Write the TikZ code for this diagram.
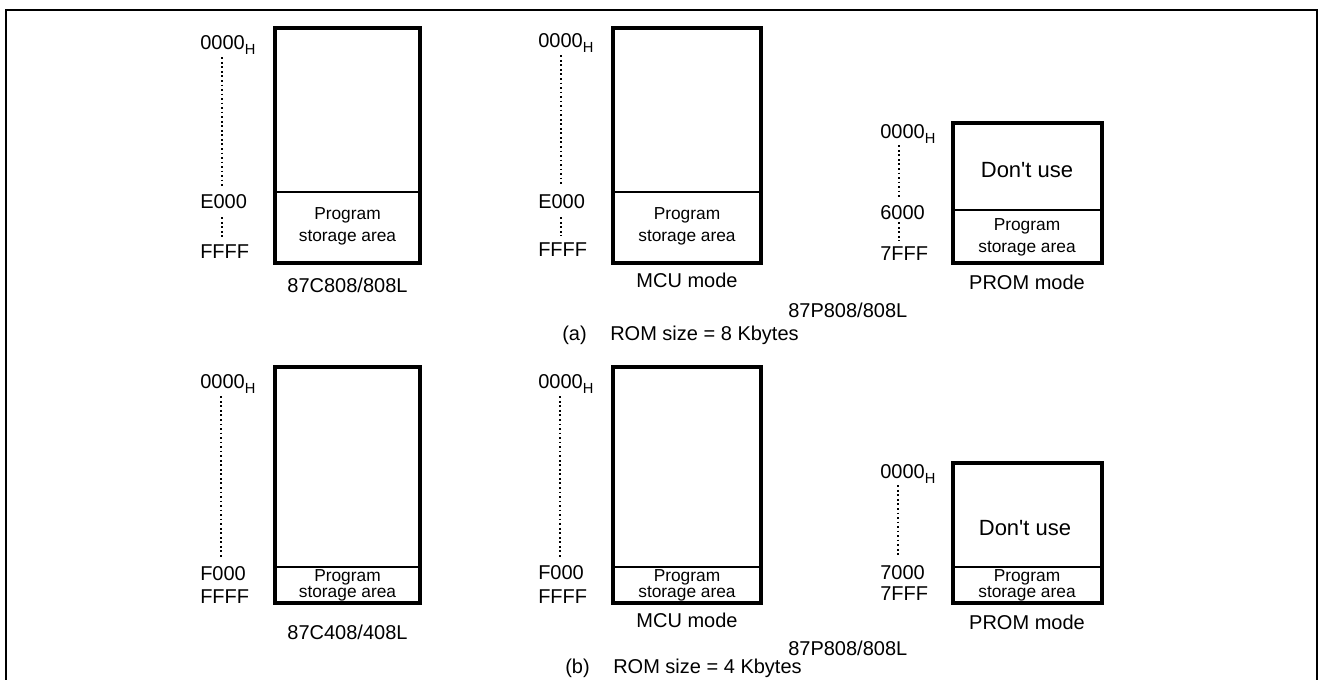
\documentclass[tikz,border=0pt]{standalone}
\usepackage{fontspec}
\setmainfont{Liberation Sans}
\usetikzlibrary{calc}
\newcommand\hsub{\smash{\raisebox{-0.4ex}{\fontsize{11}{11}\selectfont H}}}
\begin{document}
\begin{tikzpicture}[x=0.75pt,y=-0.75pt,
  membox/.style={line width=3pt},
  divline/.style={line width=0.9pt},
  dots/.style={line width=1.3pt, dash pattern=on 1.3pt off 2.1pt},
  frameline/.style={line width=2pt},
  addr/.style={anchor=west, inner sep=0pt, font=\fontsize{15}{18}\selectfont},
  lbl/.style={inner sep=0pt, font=\fontsize{15}{18}\selectfont},
  prog/.style={inner sep=0pt, align=center, font=\fontsize{13}{16.5}\selectfont},
  progt/.style={inner sep=0pt, align=center, font=\fontsize{13}{12}\selectfont},
  dont/.style={inner sep=0pt, font=\fontsize{16.5}{20}\selectfont},
]
\useasboundingbox (0,0) rectangle (1318,680);
\draw[frameline] (6,700) -- (6,10) -- (1317,10) -- (1317,700);

% ---------- (a) left: 87C808/808L ----------
\draw[membox] (275,28) rectangle (420,263);
\draw[divline] (275,192) -- (420,192);
\node[addr] (tla0) at (200,43) {0000\hsub};
\node[addr] (tla1) at (200,202) {E000};
\node[addr] (tla2) at (200,252) {FFFF};
\draw[dots] ($(222,0 |- tla0.south)+(0,7)$) -- ($(222,0 |- tla1.north)+(0,-9)$);
\draw[dots] ($(222,0 |- tla1.south)+(0,8)$) -- ($(222,0 |- tla2.north)+(0,-7)$);
\node[prog] (tlp) at (347.5,226) {Program\\storage area};
\node[lbl] (tlc) at (347.5,285) {87C808/808L};

% ---------- (a) middle: MCU mode ----------
\draw[membox] (613,28) rectangle (761,263);
\draw[divline] (613,192) -- (761,192);
\node[addr] (tma0) at (538,41) {0000\hsub};
\node[addr] (tma1) at (538,202) {E000};
\node[addr] (tma2) at (538,250) {FFFF};
\draw[dots] ($(561,0 |- tma0.south)+(0,7)$) -- ($(561,0 |- tma1.north)+(0,-9)$);
\draw[dots] ($(561,0 |- tma1.south)+(0,8)$) -- ($(561,0 |- tma2.north)+(0,-7)$);
\node[prog] (tmp) at (687,226) {Program\\storage area};
\node[lbl] (tmc) at (687,280) {MCU mode};

% ---------- (a) right: PROM mode ----------
\draw[membox] (953,123) rectangle (1102,263);
\draw[divline] (953,210) -- (1102,210);
\node[addr] (tra0) at (880,132) {0000\hsub};
\node[addr] (tra1) at (880,213) {6000};
\node[addr] (tra2) at (880,254) {7FFF};
\draw[dots] ($(899,0 |- tra0.south)+(0,6)$) -- ($(899,0 |- tra1.north)+(0,-9)$);
\draw[dots] ($(899,0 |- tra1.south)+(0,2)$) -- ($(899,0 |- tra2.north)+(0,-6)$);
\node[dont] (trd) at (1027,170) {Don\textquotesingle t use};
\node[prog] (trp) at (1027,237.5) {Program\\storage area};
\node[lbl] (trc) at (1027,282) {PROM mode};

\node[lbl, anchor=west] (pa) at (788,310) {87P808/808L};
\node[lbl, anchor=west] (capa) at (562,335) {(a)};
\node[lbl, anchor=west] (capat) at (610,335) {ROM size = 8 Kbytes};

% ---------- (b) left: 87C408/408L ----------
\draw[membox] (275,367) rectangle (420,603);
\draw[divline] (275,567) -- (420,567);
\node[addr] (bla0) at (200,382) {0000\hsub};
\node[addr] (bla1) at (200,574) {F000};
\node[addr] (bla2) at (200,597) {FFFF};
\draw[dots] ($(221,0 |- bla0.south)+(0,7)$) -- ($(221,0 |- bla1.north)+(0,-9)$);
\node[progt] (blp) at (347.5,585) {Program\\storage area};
\node[lbl] (blc) at (347.5,632) {87C408/408L};

% ---------- (b) middle: MCU mode ----------
\draw[membox] (613,367) rectangle (761,603);
\draw[divline] (613,567) -- (761,567);
\node[addr] (bma0) at (538,382) {0000\hsub};
\node[addr] (bma1) at (538,573) {F000};
\node[addr] (bma2) at (538,597) {FFFF};
\draw[dots] ($(560,0 |- bma0.south)+(0,7)$) -- ($(560,0 |- bma1.north)+(0,-9)$);
\node[progt] (bmp) at (687,585) {Program\\storage area};
\node[lbl] (bmc) at (687,620) {MCU mode};

% ---------- (b) right: PROM mode ----------
\draw[membox] (953,463) rectangle (1102,603);
\draw[divline] (953,567) -- (1102,567);
\node[addr] (bra0) at (880,472) {0000\hsub};
\node[addr] (bra1) at (880,573) {7000};
\node[addr] (bra2) at (880,594) {7FFF};
\draw[dots] ($(898,0 |- bra0.south)+(0,6)$) -- ($(898,0 |- bra1.north)+(0,-9)$);
\node[dont] (brd) at (1025,528) {Don\textquotesingle t use};
\node[progt] (brp) at (1027,585) {Program\\storage area};
\node[lbl] (brc) at (1027,622) {PROM mode};

\node[lbl, anchor=west] (pb) at (788,648) {87P808/808L};
\node[lbl, anchor=west] (capb) at (565,668) {(b)};
\node[lbl, anchor=west] (capbt) at (613,668) {ROM size = 4 Kbytes};
\end{tikzpicture}
\end{document}
